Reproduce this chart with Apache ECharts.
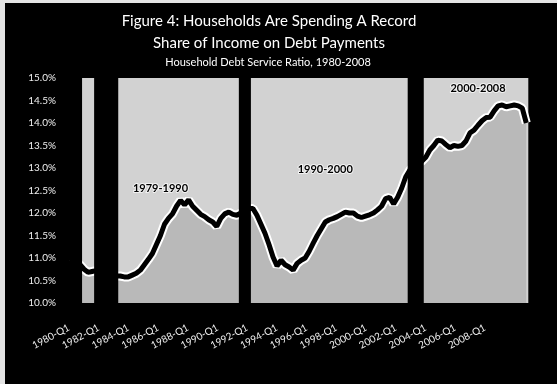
<!DOCTYPE html>
<html>
<head>
<meta charset="utf-8">
<script src="https://cdn.jsdelivr.net/npm/echarts@6/dist/echarts.min.js"></script>
<style>
  html, body { margin: 0; padding: 0; background: #000; }
  #chart { width: 557px; height: 384px; }
</style>
</head>
<body>
<div id="chart"></div>
<script>
// Quarterly categories, 1980-Q1 through 2008-Q2
const firstYear = 1980;
const quarterCount = 114;
const quarters = [];
for (let i = 0; i < quarterCount; i++) {
  quarters.push((firstYear + Math.floor(i / 4)) + '-Q' + (i % 4 + 1));
}

// Household debt service ratio, % of disposable income, one value per quarter
const dsr = [
  10.85, 10.90, 10.85, 10.75, 10.68, 10.70, 10.72, 10.70,   // 1980-1981
  10.68, 10.65, 10.62, 10.60, 10.60, 10.58, 10.58, 10.62,   // 1982-1983
  10.66, 10.73, 10.85, 10.97, 11.10, 11.30, 11.50, 11.75,   // 1984-1985
  11.88, 11.98, 12.15, 12.28, 12.18, 12.29, 12.15, 12.06,   // 1986-1987
  11.97, 11.92, 11.85, 11.80, 11.70, 11.88, 11.98, 12.02,   // 1988-1989
  11.97, 11.95, 12.00, 12.05, 12.10, 12.10, 11.95, 11.75,   // 1990-1991
  11.55, 11.30, 11.02, 10.82, 10.95, 10.85, 10.80, 10.73,   // 1992-1993
  10.88, 10.95, 11.00, 11.15, 11.33, 11.50, 11.65, 11.80,   // 1994-1995
  11.85, 11.88, 11.92, 11.97, 12.02, 12.00, 12.00, 11.93,   // 1996-1997
  11.90, 11.93, 11.96, 12.00, 12.07, 12.15, 12.32, 12.35,   // 1998-1999
  12.20, 12.35, 12.55, 12.80, 12.95, 13.05, 13.10, 13.15,   // 2000-2001
  13.24, 13.40, 13.50, 13.62, 13.60, 13.52, 13.45, 13.50,   // 2002-2003
  13.48, 13.50, 13.60, 13.78, 13.84, 13.95, 14.05, 14.12,   // 2004-2005
  14.13, 14.27, 14.38, 14.40, 14.36, 14.38, 14.40, 14.38,   // 2006-2007
  14.33, 14.00                                              // 2008
];

// Recession quarters (first and last quarter of each)
const recessions = [
  ['1980-Q1', '1980-Q3'],
  ['1981-Q3', '1982-Q4'],
  ['1990-Q3', '1991-Q1'],
  ['2001-Q1', '2001-Q4']
];

// Expansion period names
const periodNames = ['1979-1990', '1990-2000', '2000-2008'];

// Y axis range and tick step (percent)
const yMin = 10, yMax = 15, yStep = 0.5;

// Full-height black band covering every quarter of a recession
function renderRecession(params, api) {
  const top = api.coord([api.value(0), yMax]);
  const end = api.coord([api.value(1), yMin]);
  const band = api.size([1, 0])[0];
  return {
    type: 'rect',
    shape: {
      x: top[0] - band / 2,
      y: top[1],
      width: end[0] - top[0] + band,
      height: end[1] - top[1]
    },
    style: { fill: '#000' }
  };
}

const FONT = 'Lato, "Open Sans", sans-serif';
const periodLabel = {
  show: true, position: 'inside', formatter: '{b}', color: '#000',
  fontFamily: FONT, fontWeight: 'bold', fontSize: 11,
  textBorderColor: 'rgba(255,255,255,0.7)', textBorderWidth: 2
};

const chart = echarts.init(document.getElementById('chart'), null, { renderer: 'canvas' });
chart.setOption({
  backgroundColor: '#000',
  animation: false,
  title: [
    {
      text: 'Figure 4: Households Are Spending A Record\nShare of Income on Debt Payments',
      left: 264, top: 5, textAlign: 'center',
      textStyle: { color: '#fff', fontFamily: FONT, fontSize: 15, fontWeight: 'normal', lineHeight: 22 }
    },
    {
      text: 'Household Debt Service Ratio, 1980-2008',
      left: 263, top: 50, textAlign: 'center',
      textStyle: { color: '#fff', fontFamily: FONT, fontSize: 11, fontWeight: 'normal', lineHeight: 14 }
    }
  ],
  graphic: [
    { type: 'rect', z: 100, shape: { x: 0, y: 0, width: 5, height: 384 }, style: { fill: '#e4e4e4' } },
    { type: 'rect', z: 100, shape: { x: 0, y: 0, width: 557, height: 3 }, style: { fill: '#e4e4e4' } }
  ],
  grid: [
    { left: 70, right: 28.7, top: 78, bottom: 81, show: true, backgroundColor: '#d2d2d2', borderWidth: 0 },
    { left: 67.1, right: 66.5, top: 78, bottom: 81, show: false }
  ],
  xAxis: [
    { type: 'category', gridIndex: 0, data: quarters, boundaryGap: true,
      axisLine: { show: false }, axisTick: { show: false }, axisLabel: { show: false } },
    { type: 'category', gridIndex: 1, data: quarters, boundaryGap: true,
      axisLine: { show: false }, axisTick: { show: false },
      axisLabel: { interval: 7, rotate: 28, margin: 24, color: '#eeeeee', fontFamily: FONT, fontSize: 10 } }
  ],
  yAxis: [
    { type: 'value', gridIndex: 0, min: yMin, max: yMax, interval: yStep,
      axisLine: { show: false }, axisTick: { show: false }, splitLine: { show: false },
      axisLabel: { margin: 14, color: '#eeeeee', fontFamily: FONT, fontSize: 10,
        formatter: function (v) { return v.toFixed(1) + '%'; } } },
    { type: 'value', gridIndex: 1, min: yMin, max: yMax, show: false }
  ],
  series: [
    {
      name: 'recession', type: 'custom', data: recessions,
      dimensions: [{ name: 'start', type: 'ordinal' }, { name: 'end', type: 'ordinal' }],
      xAxisIndex: 0, yAxisIndex: 0, silent: true, z: 5, clip: false,
      encode: { x: [0, 1] },
      renderItem: renderRecession
    },
    {
      name: 'area', type: 'line', data: dsr, xAxisIndex: 0, yAxisIndex: 0,
      symbol: 'none', silent: true, z: 2,
      lineStyle: { color: '#ffffff', width: 9 },
      areaStyle: { color: '#b9b9b9', opacity: 1, origin: 'start' }
    },
    {
      name: 'DSR', type: 'line', data: dsr, xAxisIndex: 0, yAxisIndex: 0,
      symbol: 'none', silent: true, z: 3,
      lineStyle: { color: '#000', width: 5 },
      markPoint: {
        symbol: 'rect', symbolSize: 1, silent: true,
        itemStyle: { color: 'rgba(0,0,0,0)' },
        label: periodLabel,
        data: [
          { name: periodNames[0], coord: ['1985-Q3', 12.55] },
          { name: periodNames[1], coord: ['1995-Q4', 12.96] },
          { name: periodNames[2], coord: ['2005-Q2', 14.76] }
        ]
      }
    }
  ]
});
</script>
</body>
</html>
